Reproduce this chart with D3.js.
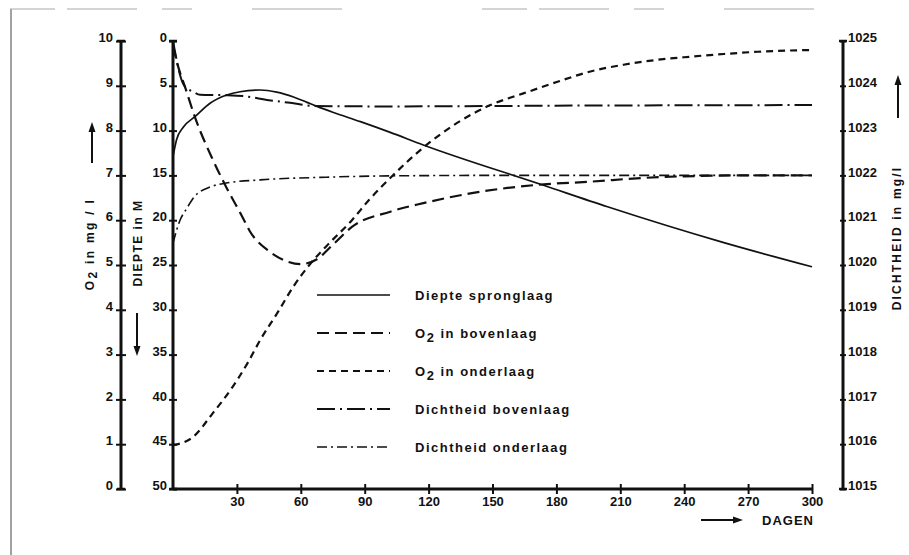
<!DOCTYPE html>
<html>
<head>
<meta charset="utf-8">
<script src="https://cdn.jsdelivr.net/npm/d3@7"></script>
<style>
  body { margin: 0; background: #fff; }
  text { font-family: "Liberation Sans", Arial, sans-serif; font-weight: bold; fill: #111; }
</style>
</head>
<body>
<script>
// values (day -> value)
const diepteDays = [0, 1.7, 4.9, 10.3, 17.4, 25.2, 31.5, 40.9, 48.7, 56.6, 62.9, 67.6, 75, 88, 102, 117.5, 174, 204, 258.6, 300];
const diepteVals = [12.9, 11.0, 9.6, 8.45, 6.95, 6.03, 5.66, 5.47, 5.7, 6.25, 6.85, 7.3, 7.95, 9.0, 10.2, 11.6, 16.1, 18.5, 22.5, 25.2];

const o2BovenDays = [0, 2, 5.6, 10.3, 18.8, 25.2, 32.4, 36, 45, 53, 59.7, 67.6, 75, 84, 102, 117.5, 141, 157, 174, 196, 219.5, 240, 270, 300];
const o2BovenVals = [9.9, 9.5, 8.98, 8.3, 7.34, 6.72, 6.09, 5.76, 5.31, 5.09, 5.02, 5.13, 5.45, 5.85, 6.19, 6.38, 6.61, 6.72, 6.8, 6.86, 6.94, 6.98, 7.0, 7.0];

const o2OnderDays = [0, 9.4, 18.8, 28, 35, 41, 49, 56.4, 64, 72, 84, 92, 102.6, 118, 149, 164.5, 180.5, 196, 211.5, 227.5, 243, 258.6, 274.5, 300];
const o2OnderVals = [0.98, 1.16, 1.7, 2.28, 2.81, 3.33, 3.93, 4.51, 5.0, 5.42, 6.0, 6.45, 6.97, 7.64, 8.57, 8.83, 9.09, 9.32, 9.47, 9.58, 9.65, 9.71, 9.76, 9.8];

const dichtBovenDays = [0, 1.7, 3.3, 5.6, 9.4, 12.7, 25, 33, 45, 55, 66, 100, 200, 300];
const dichtBovenVals = [1025.0, 1024.58, 1024.24, 1023.98, 1023.87, 1023.8, 1023.79, 1023.77, 1023.68, 1023.62, 1023.55, 1023.54, 1023.56, 1023.57];

const dichtOnderDays = [0, 3.3, 6.3, 10, 17.4, 25, 41, 72, 103, 150, 300];
const dichtOnderVals = [1020.49, 1021.0, 1021.25, 1021.52, 1021.74, 1021.83, 1021.9, 1021.96, 1021.99, 1022.0, 1022.0];

const o2Ticks = d3.range(0, 11);
const depthTicks = d3.range(0, 51, 5);
const densTicks = d3.range(1015, 1026);
const dayTicks = d3.range(30, 301, 30);

const W = 909, H = 555;
const svg = d3.select('body').append('svg').attr('width', W).attr('height', H);
svg.append('rect').attr('width', W).attr('height', H).attr('fill', '#fff');

// scan border remnants
svg.append('line').attr('x1', 11).attr('x2', 11).attr('y1', 9).attr('y2', H)
    .attr('stroke', '#444').attr('stroke-width', 1);
svg.append('line').attr('x1', 10).attr('x2', 900).attr('y1', 9).attr('y2', 9)
    .attr('stroke', '#aaa').attr('stroke-width', 1).attr('stroke-dasharray', '45,12,70,25,30,60,90,140');

const x = d3.scaleLinear().domain([0, 300]).range([173, 812]);
const yO2 = d3.scaleLinear().domain([0, 10]).range([489, 41]);
const yDepth = d3.scaleLinear().domain([0, 50]).range([41, 489]);
const yDens = d3.scaleLinear().domain([1015, 1025]).range([489, 41]);

function vAxis(scale, ticks, xPos, side, size, pad) {
  const gen = (side === 'left' ? d3.axisLeft(scale) : d3.axisRight(scale))
      .tickValues(ticks).tickSizeInner(size).tickSizeOuter(0).tickPadding(pad)
      .tickFormat(d3.format('d'));
  const g = svg.append('g').attr('transform', 'translate(' + xPos + ',0)').call(gen)
      .attr('font-family', null).attr('font-size', 13);
  g.select('.domain').remove();
  g.selectAll('.tick line')
      .attr('x1', side === 'left' ? size : -size)
      .attr('stroke', '#111').attr('stroke-width', 2);
  g.selectAll('.tick text').attr('dy', '0.05em');
  const r = scale.range();
  g.append('line').attr('y1', r[0]).attr('y2', r[1]).attr('stroke', '#111').attr('stroke-width', 3);
  // end caps
  [r[0], r[1]].forEach(v => {
    g.append('line').attr('x1', -4).attr('x2', 4).attr('y1', v).attr('y2', v)
        .attr('stroke', '#111').attr('stroke-width', 2.5);
  });
  return g;
}

vAxis(yO2, o2Ticks, 121, 'left', 5, 3);
vAxis(yDepth, depthTicks, 173, 'left', 4, 2);
vAxis(yDens, densTicks, 843, 'right', 3, 2);

// day axis
const xg = svg.append('g').attr('transform', 'translate(0,489)')
    .call(d3.axisBottom(x).tickValues(dayTicks).tickSizeInner(5).tickSizeOuter(0).tickPadding(3))
    .attr('font-family', null).attr('font-size', 13);
xg.select('.domain').remove();
xg.selectAll('.tick line').attr('y1', -5).attr('stroke', '#111').attr('stroke-width', 2);
xg.append('line').attr('x1', x(0)).attr('x2', x(300)).attr('stroke', '#111').attr('stroke-width', 3);

// curves
const series = [
  {days: diepteDays, vals: diepteVals, y: yDepth, dash: null, w: 1.7},
  {days: o2BovenDays, vals: o2BovenVals, y: yO2, dash: '12,6', w: 2.2},
  {days: o2OnderDays, vals: o2OnderVals, y: yO2, dash: '7,5', w: 2.2},
  {days: dichtBovenDays, vals: dichtBovenVals, y: yDens, dash: '18,5,2,5', w: 2},
  {days: dichtOnderDays, vals: dichtOnderVals, y: yDens, dash: '10,4,2,4', w: 1.6}
];

series.forEach(s => {
  const pts = s.days.map((d, i) => [d, s.vals[i]]);
  const line = d3.line().x(d => x(d[0])).y(d => s.y(d[1])).curve(d3.curveMonotoneX);
  svg.append('path').datum(pts)
      .attr('d', line)
      .attr('fill', 'none')
      .attr('stroke', '#111')
      .attr('stroke-width', s.w)
      .attr('stroke-dasharray', s.dash);
});

// legend
const legendLabels = [
  ['Diepte spronglaag'],
  ['O', '2', ' in bovenlaag'],
  ['O', '2', ' in onderlaag'],
  ['Dichtheid bovenlaag'],
  ['Dichtheid onderlaag']
];
const legendY = [295, 333, 371, 409, 447];
legendLabels.forEach((lab, i) => {
  const s = series[i];
  svg.append('line').attr('x1', 317).attr('x2', 390).attr('y1', legendY[i]).attr('y2', legendY[i])
      .attr('stroke', '#111').attr('stroke-width', s.w).attr('stroke-dasharray', s.dash);
  const t = svg.append('text').attr('x', 415).attr('y', legendY[i] + 5)
      .attr('font-size', 13).attr('letter-spacing', 1.5);
  if (lab.length === 1) {
    t.text(lab[0]);
  } else {
    t.append('tspan').text(lab[0]);
    t.append('tspan').attr('dy', 4).text(lab[1]);
    t.append('tspan').attr('dy', -4).text(lab[2]);
  }
});

// axis titles
function vTitle(cx, cy, parts, spacing) {
  const t = svg.append('text')
      .attr('transform', 'translate(' + cx + ',' + cy + ') rotate(-90)')
      .attr('text-anchor', 'middle').attr('font-size', 12).attr('letter-spacing', spacing);
  parts.forEach(p => {
    const ts = t.append('tspan').text(p[0]);
    if (p[1]) ts.attr('dy', p[1]);
  });
}
vTitle(94, 244, [['O'], ['2', 3], [' in  mg / l', -3]], 2.3);
vTitle(142, 243, [['DIEPTE in M']], 1.5);
vTitle(901, 238, [['DICHTHEID in mg/l']], 2.2);

svg.append('text').attr('x', 762).attr('y', 525).attr('font-size', 13).attr('letter-spacing', 1)
    .text('DAGEN');

// arrows
function arrow(x1, y1, x2, y2) {
  const a = Math.atan2(y2 - y1, x2 - x1), L = 10, hw = 3.5;
  svg.append('line').attr('x1', x1).attr('y1', y1)
      .attr('x2', x2 - Math.cos(a) * L * 0.8).attr('y2', y2 - Math.sin(a) * L * 0.8)
      .attr('stroke', '#111').attr('stroke-width', 2);
  const bx = x2 - Math.cos(a) * L, by = y2 - Math.sin(a) * L;
  const px = -Math.sin(a) * hw, py = Math.cos(a) * hw;
  svg.append('path')
      .attr('d', 'M' + x2 + ',' + y2 + 'L' + (bx + px) + ',' + (by + py) + 'L' + (bx - px) + ',' + (by - py) + 'Z')
      .attr('fill', '#111');
}
arrow(92, 163, 92, 122);
arrow(137, 313, 137, 356);
arrow(898, 118, 898, 75);
arrow(701, 520, 743, 520);
</script>
</body>
</html>
